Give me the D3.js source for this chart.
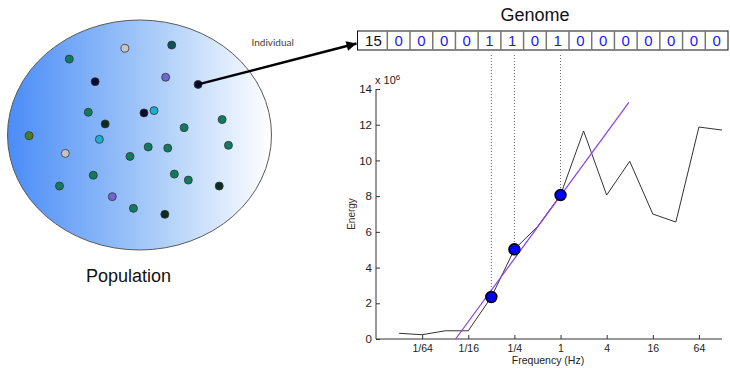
<!DOCTYPE html>
<html>
<head>
<meta charset="utf-8">
<script src="https://cdn.jsdelivr.net/npm/d3@7"></script>
<style>
  body { margin: 0; background: #fff; }
  svg { display: block; font-family: "Liberation Sans", Arial, sans-serif; }
</style>
</head>
<body>
<svg id="fig" width="730" height="368"></svg>
<script>
// spectrum: energy (x 10^6) at each octave frequency
const freqs = [1/128, 1/64, 1/32, 1/16, 1/8, 1/4, 1/2, 1, 2, 4, 8, 16, 32, 64, 128];
const energy = [0.32, 0.24, 0.46, 0.46, 2.35, 5.02, 6.29, 8.06, 11.65, 8.06, 9.95, 7.0, 6.55, 11.87, 11.7];
const selectedFreqs = [1/8, 1/4, 1];
const fitFreqs = [0.0427, 7.8];
const fitEnergy = [0, 13.25];
const xTickFreqs = [1/64, 1/16, 1/4, 1, 4, 16, 64];
const xTickLabels = ["1/64", "1/16", "1/4", "1", "4", "16", "64"];
const yTicks = [0, 2, 4, 6, 8, 10, 12, 14];

// genome: first gene + bits
const genomeHead = 15;
const genomeBits = [0, 0, 0, 0, 1, 1, 0, 1, 0, 0, 0, 0, 0, 0, 0];

// population members, position in the ellipse box (0-100)
const popU = [23.4, 44.5, 62.2, 33.2, 59.9, 72.2, 30.6, 51.7, 55.5, 37.0, 66.9, 81.3, 8.2, 34.8,
              53.3, 60.7, 83.7, 21.9, 46.4, 32.5, 63.2, 68.5, 19.7, 80.2, 39.7, 47.7, 59.6];
const popV = [17.0, 12.3, 10.9, 26.8, 24.9, 28.0, 40.1, 40.4, 39.4, 45.2, 46.8, 43.3, 50.3, 51.9,
              55.2, 55.7, 54.5, 58.0, 59.3, 67.5, 67.0, 69.6, 72.2, 72.2, 76.8, 81.9, 84.5];
const popKind = ["teal", "gray", "darkteal", "navy", "slate", "navy", "teal", "navy", "cyan", "darkgreen",
                 "teal", "teal", "olive", "cyan", "teal", "teal", "teal", "gray", "teal", "teal",
                 "teal", "teal", "teal", "darkgreen", "slate", "teal", "darkgreen"];
const chosen = 5;

const kindColor = {
  teal: "#117a5f", gray: "#c4c4c8", darkteal: "#0c5058", navy: "#0a0a30",
  slate: "#6c66d2", cyan: "#1eaed0", darkgreen: "#0c2c1f", olive: "#4a7a22"
};

const svg = d3.select("#fig");

// ---------- population ----------
const defs = svg.append("defs");
const grad = defs.append("linearGradient").attr("id", "popGrad")
  .attr("x1", "0%").attr("x2", "100%").attr("y1", "0%").attr("y2", "0%");
grad.append("stop").attr("offset", "0%").attr("stop-color", "#4a8cf7");
grad.append("stop").attr("offset", "55%").attr("stop-color", "#a8cbf9");
grad.append("stop").attr("offset", "100%").attr("stop-color", "#ffffff");

const ell = { left: 7.5, right: 271.5, top: 20, bottom: 250 };
svg.append("ellipse")
  .attr("cx", (ell.left + ell.right) / 2)
  .attr("cy", (ell.top + ell.bottom) / 2)
  .attr("rx", (ell.right - ell.left) / 2)
  .attr("ry", (ell.bottom - ell.top) / 2)
  .attr("fill", "url(#popGrad)")
  .attr("stroke", "#5a5a5a")
  .attr("stroke-width", 1);

const pu = d3.scaleLinear().domain([0, 100]).range([ell.left, ell.right]);
const pv = d3.scaleLinear().domain([0, 100]).range([ell.top, ell.bottom]);

svg.append("text")
  .attr("x", 128.5).attr("y", 282)
  .attr("text-anchor", "middle")
  .attr("font-size", "18px")
  .attr("fill", "#111")
  .text("Population");

// ---------- genome ----------
const gen = { left: 357.5, headW: 29.8, right: 728, top: 31, bottom: 50 };
const cellX = d3.scaleLinear().domain([0, genomeBits.length]).range([gen.left + gen.headW, gen.right]);

svg.append("text")
  .attr("x", 535).attr("y", 21)
  .attr("text-anchor", "middle")
  .attr("font-size", "18px")
  .attr("fill", "#111")
  .text("Genome");

const cells = svg.append("g");
cells.append("rect")
  .attr("x", gen.left).attr("y", gen.top)
  .attr("width", gen.right - gen.left).attr("height", gen.bottom - gen.top)
  .attr("fill", "#fff").attr("stroke", "#111").attr("stroke-width", 1);
cells.selectAll("line.div")
  .data(d3.range(genomeBits.length))
  .join("line")
  .attr("class", "div")
  .attr("x1", i => cellX(i)).attr("x2", i => cellX(i))
  .attr("y1", gen.top).attr("y2", gen.bottom)
  .attr("stroke", "#777").attr("stroke-width", 1.5);
cells.append("text")
  .attr("x", gen.left + gen.headW / 2 + 1).attr("y", gen.bottom - 4.5)
  .attr("text-anchor", "middle")
  .attr("font-size", "15px")
  .attr("fill", "#111")
  .text(genomeHead);
cells.selectAll("text.bit")
  .data(genomeBits)
  .join("text")
  .attr("class", "bit")
  .attr("x", (d, i) => cellX(i + 0.5))
  .attr("y", gen.bottom - 4.5)
  .attr("text-anchor", "middle")
  .attr("font-size", "15px")
  .attr("fill", "#1a1af0")
  .text(d => d);

// ---------- spectrum chart ----------
const x = d3.scaleLog().base(2).domain([1/256, 128]).range([376, 722]);
const y = d3.scaleLinear().domain([0, 14]).range([339, 89]);

const yAxis = d3.axisLeft(y).tickValues(yTicks).tickSize(-4).tickPadding(4);
const gy = svg.append("g").attr("transform", `translate(${x.range()[0]},0)`).call(yAxis);
gy.select(".domain").attr("d", `M0,${y(14)}V${y(0)}`);

const xAxis = d3.axisBottom(x).tickValues(xTickFreqs)
  .tickFormat((d, i) => xTickLabels[i]).tickSize(-4).tickPadding(6);
const gx = svg.append("g").attr("transform", `translate(0,${y(0)})`).call(xAxis);
gx.select(".domain").attr("d", `M${x.range()[0]},0H${x.range()[1]}`);

[gx, gy].forEach(g => {
  g.select(".domain").attr("stroke", "#333");
  g.selectAll(".tick line").attr("stroke", "#333");
  g.selectAll(".tick text").attr("fill", "#222").attr("font-family", "'Liberation Sans', Arial, sans-serif");
});
gy.selectAll(".tick text").attr("font-size", "11.5px");
gx.selectAll(".tick text").attr("font-size", "10.5px");

const expLabel = svg.append("text")
  .attr("x", 375).attr("y", 84)
  .attr("font-size", "11px")
  .attr("fill", "#222");
expLabel.append("tspan").text("x 10");
expLabel.append("tspan").attr("dy", -4).attr("font-size", "8px").text("6");

svg.append("text")
  .attr("transform", "translate(355,214) rotate(-90)")
  .attr("text-anchor", "middle")
  .attr("font-size", "10px")
  .attr("fill", "#3a2e24")
  .text("Energy");

svg.append("text")
  .attr("x", 548).attr("y", 364)
  .attr("text-anchor", "middle")
  .attr("font-size", "10.5px")
  .attr("fill", "#222")
  .text("Frequency (Hz)");

// dotted guides from genome to selected frequencies
svg.selectAll("line.guide")
  .data(selectedFreqs)
  .join("line")
  .attr("class", "guide")
  .attr("x1", d => x(d)).attr("x2", d => x(d))
  .attr("y1", gen.bottom + 5)
  .attr("y2", d => y(energy[freqs.indexOf(d)]))
  .attr("stroke", "#666")
  .attr("stroke-width", 1)
  .attr("stroke-dasharray", "1,2");

// energy curve
const line = d3.line().x((d, i) => x(freqs[i])).y(d => y(d));
svg.append("path")
  .datum(energy)
  .attr("d", line)
  .attr("fill", "none")
  .attr("stroke", "#333")
  .attr("stroke-width", 1);

// fitted line
svg.append("path")
  .datum(fitEnergy)
  .attr("d", d3.line().x((d, i) => x(fitFreqs[i])).y(d => y(d)))
  .attr("fill", "none")
  .attr("stroke", "#8a3ee8")
  .attr("stroke-width", 1.2);

// selected points
svg.selectAll("circle.sel")
  .data(selectedFreqs)
  .join("circle")
  .attr("class", "sel")
  .attr("cx", d => x(d))
  .attr("cy", d => y(energy[freqs.indexOf(d)]))
  .attr("r", 5.5)
  .attr("fill", "#0000ff")
  .attr("stroke", "#000")
  .attr("stroke-width", 1.5);

// ---------- individuals and arrow ----------
svg.selectAll("circle.ind")
  .data(popU)
  .join("circle")
  .attr("class", "ind")
  .attr("cx", d => pu(d))
  .attr("cy", (d, i) => pv(popV[i]))
  .attr("r", 4)
  .attr("fill", (d, i) => kindColor[popKind[i]])
  .attr("stroke", "#333")
  .attr("stroke-width", 0.8);

defs.append("marker")
  .attr("id", "arrowHead")
  .attr("viewBox", "0 0 10 10")
  .attr("refX", 10).attr("refY", 5)
  .attr("markerUnits", "userSpaceOnUse")
  .attr("markerWidth", 17).attr("markerHeight", 10)
  .attr("orient", "auto")
  .append("path").attr("d", "M0,0L10,5L0,10Z").attr("fill", "#000");

svg.append("line")
  .attr("x1", pu(popU[chosen])).attr("y1", pv(popV[chosen]))
  .attr("x2", gen.left - 1).attr("y2", (gen.top + gen.bottom) / 2 + 3)
  .attr("stroke", "#000")
  .attr("stroke-width", 2.5)
  .attr("marker-end", "url(#arrowHead)");

svg.append("text")
  .attr("x", 251.5).attr("y", 45.5)
  .attr("font-family", "Lato, 'Open Sans', sans-serif")
  .attr("font-size", "10px")
  .attr("fill", "#4a3d2c")
  .text("Individual");
</script>
</body>
</html>
